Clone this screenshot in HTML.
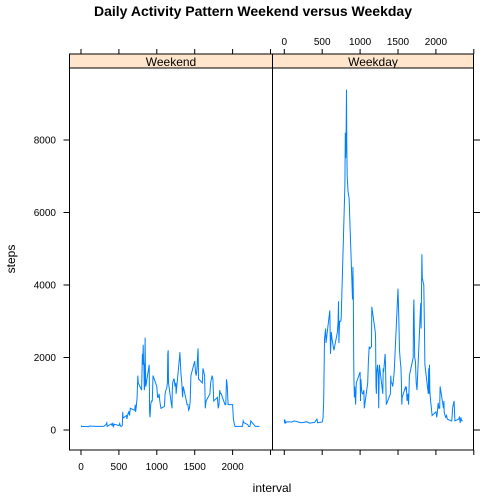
<!DOCTYPE html>
<html><head><meta charset="utf-8">
<style>
body{margin:0;background:#fff;}
svg{display:block;font-family:"Liberation Sans",Arial,sans-serif;}
</style></head>
<body>
<svg id="chart" width="504" height="504" viewBox="0 0 504 504" xmlns="http://www.w3.org/2000/svg">
<text x="253" y="16" text-anchor="middle" font-size="14" font-weight="bold">Daily Activity Pattern Weekend versus Weekday</text>
<text x="272" y="492" text-anchor="middle" font-size="12">interval</text>
<text x="0" y="0" transform="translate(15,259) rotate(-90)" text-anchor="middle" font-size="12">steps</text>
<g id="marks"></g>
</svg>
<script>
const xTicks=[0,500,1000,1500,2000];
const yTicks=[0,2000,4000,6000,8000];
const panels=["Weekend","Weekday"];
const weekendX=[0,5,10,30,100,110,200,300,330,340,345,400,410,420,430,440,500,510,520,530,545,550,555,600,605,610,620,630,640,650,700,710,715,720,730,740,750,755,800,810,815,820,825,830,835,840,845,850,855,900,905,910,920,930,940,950,1000,1010,1020,1030,1040,1050,1055,1100,1110,1120,1130,1140,1145,1150,1155,1200,1205,1210,1220,1230,1240,1250,1255,1300,1305,1310,1320,1330,1340,1345,1350,1400,1410,1420,1430,1440,1450,1500,1510,1520,1530,1540,1545,1550,1555,1600,1610,1620,1630,1640,1650,1700,1710,1730,1740,1750,1800,1810,1820,1830,1840,1850,1900,1910,1920,1930,1940,1950,2000,2010,2020,2030,2040,2100,2110,2130,2140,2150,2200,2210,2220,2230,2240,2300,2355];
const weekendY=[100,110,90,100,90,110,100,100,150,200,100,170,120,200,100,160,120,180,110,100,120,500,330,400,300,350,450,500,400,600,550,550,700,500,650,900,1500,1300,1100,2100,1800,2350,1900,1800,1100,1200,2550,1700,1200,1800,500,350,700,800,800,1500,1200,900,900,1000,800,650,600,650,1000,1100,1150,1300,2100,2200,1300,600,1100,1300,1400,1400,1200,1300,1000,2000,2150,1900,1500,1300,900,1100,1200,700,700,550,600,800,1500,1900,1600,1500,1700,2100,2250,1400,1400,1300,1700,1600,1500,600,800,1000,1300,1500,1400,800,900,600,700,1100,1000,1000,700,700,1400,1200,700,700,700,300,200,100,100,100,100,100,250,200,150,100,100,100,250,100,100];
const weekdayX=[0,5,10,20,40,100,130,200,230,300,330,400,430,440,500,510,520,530,545,550,600,610,620,630,655,700,710,715,720,730,745,750,800,805,810,815,820,825,830,840,845,855,900,905,910,915,920,925,930,940,950,1000,1005,1010,1020,1030,1040,1050,1055,1100,1110,1120,1130,1150,1155,1200,1205,1210,1215,1220,1230,1240,1245,1250,1255,1300,1305,1310,1320,1330,1335,1340,1345,1400,1405,1410,1420,1430,1440,1450,1500,1505,1510,1520,1530,1540,1545,1550,1555,1600,1605,1610,1620,1630,1640,1650,1700,1705,1710,1720,1730,1740,1750,1800,1805,1810,1815,1820,1830,1840,1850,1855,1900,1905,1910,1915,1920,1930,1940,1950,2000,2010,2020,2030,2040,2050,2055,2100,2105,2110,2120,2130,2140,2150,2200,2210,2220,2230,2240,2250,2300,2310,2320,2330,2340,2350,2355];
const weekdayY=[290,180,250,200,230,220,250,210,200,230,190,210,300,200,220,320,800,2500,2800,2400,3300,2100,2700,2500,2200,2700,3000,3550,2400,3000,3000,3100,6750,8200,7500,8100,9390,7800,7000,6600,6500,6400,3600,4500,3800,2000,1300,900,1200,700,1300,1600,800,1400,1100,1000,1000,1100,600,1300,1900,2300,2250,2300,3400,2700,2500,1200,1000,1600,1800,1500,600,1400,1800,1000,1700,1600,1850,2100,1800,1200,700,1000,1500,1300,1300,1200,1400,1600,3900,3500,3100,2200,1900,1700,1300,700,900,1200,1100,1200,800,1000,700,1500,2000,3200,3600,2000,1900,1300,1100,3500,2800,3800,4850,4200,4100,4000,2700,1800,1000,1700,1000,1800,1100,800,600,400,500,350,500,750,600,600,1200,600,800,500,400,350,400,300,250,250,600,700,800,250,300,350,200,350,250,250,250];
const seriesX=[weekendX,weekdayX], seriesY=[weekendY,weekdayY];
const NS="http://www.w3.org/2000/svg";
const g=document.getElementById('marks');
const top0=54, stripB=68, bot=450;
const pl=[69.5,272.5], pw=[203,201];
const x0=[81,284.3];
function xs(p,v){return x0[p]+v*0.0758;}
function ys(v){return 430-v*0.03625;}
function el(t,a){const e=document.createElementNS(NS,t);for(const k in a)e.setAttribute(k,a[k]);g.appendChild(e);return e;}
panels.forEach((name,p)=>{
  const s=el('rect',{x:pl[p],y:top0,width:pw[p],height:stripB-top0,fill:'#ffe5cc',stroke:'#000','stroke-width':1});
  
  
  const st=el('text',{x:pl[p]+pw[p]/2,y:top0+12,'text-anchor':'middle','font-size':12,fill:'#000'});
  st.textContent=name;
  
  
  const fr=el('rect',{x:pl[p],y:stripB,width:pw[p],height:bot-stripB,fill:'none',stroke:'#000','stroke-width':1});
  
  
  xTicks.concat([2500]).forEach(v=>{
    const x=xs(p,v);
    const tb=el('line',{x1:x,y1:bot,x2:x,y2:bot+5,stroke:'#000'});
    
    
    const tt=el('line',{x1:x,y1:top0,x2:x,y2:top0-5,stroke:'#000'});
    
    
  });
  xTicks.forEach(v=>{
    const lt=el('text',{x:xs(p,v),y:p==0?470:45,'text-anchor':'middle','font-size':10});
    lt.textContent=v;
    
    
  });
  const pts=seriesX[p].map((v,i)=>xs(p,v).toFixed(1)+','+ys(seriesY[p][i]).toFixed(1)).join(' ');
  const ln=el('polyline',{points:pts,fill:'none',stroke:'#0080ff','stroke-width':1});
  
  
});
yTicks.forEach(v=>{
  const y=ys(v);
  const a=el('line',{x1:63.5,y1:y,x2:69.5,y2:y,stroke:'#000'});
  
  
  const b=el('line',{x1:473.5,y1:y,x2:480,y2:y,stroke:'#000'});
  
  
  const t=el('text',{x:56,y:y+3.5,'text-anchor':'end','font-size':10});
  t.textContent=v;
  
  
});
</script>
</body></html>
